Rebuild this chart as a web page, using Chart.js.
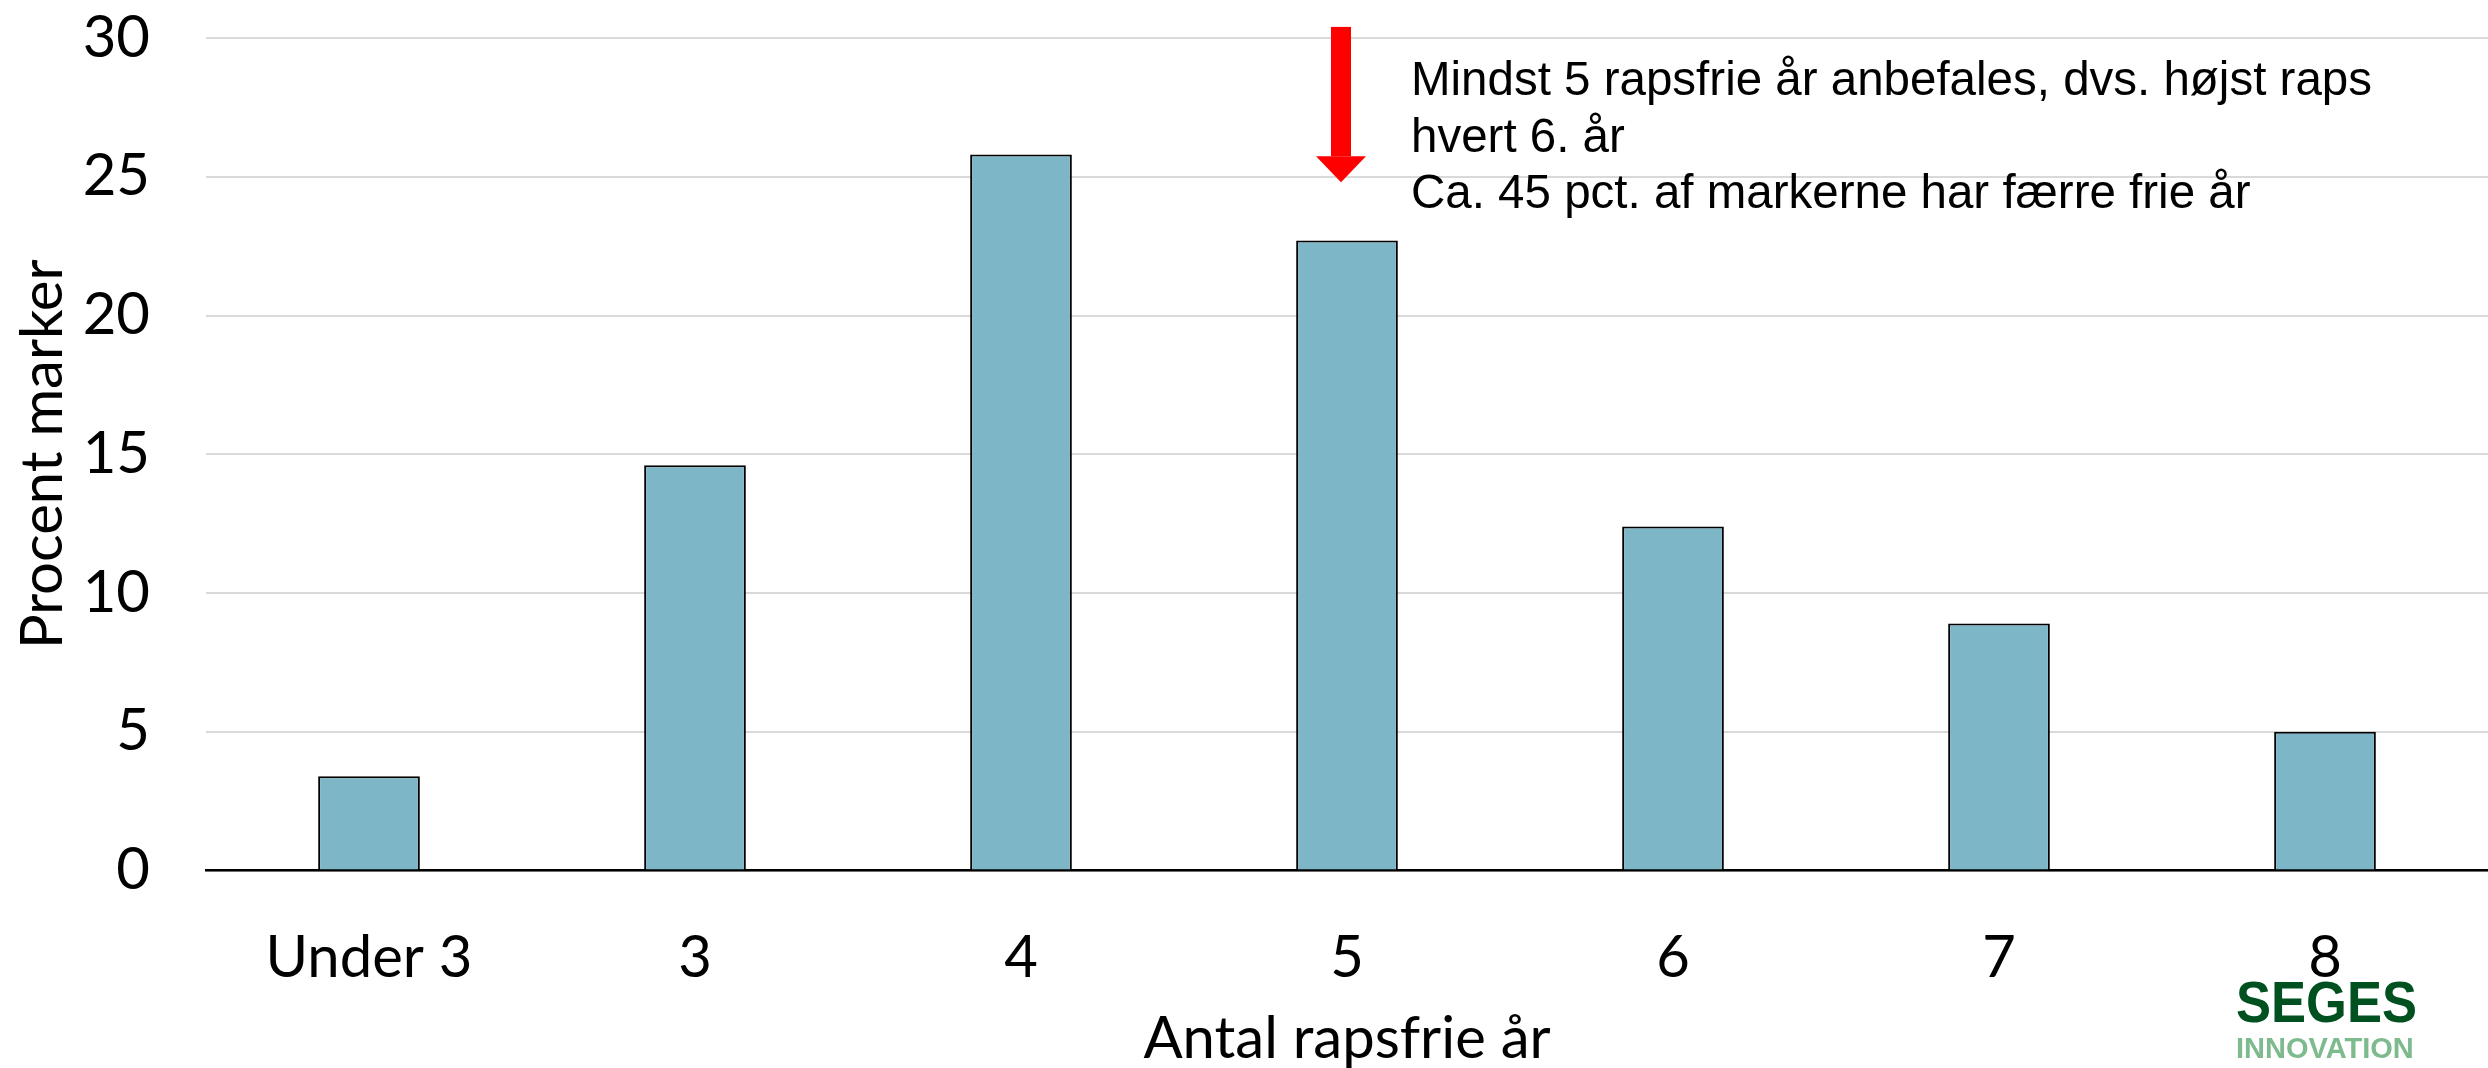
<!DOCTYPE html>
<html>
<head>
<meta charset="utf-8">
<script src="https://cdn.jsdelivr.net/npm/chart.js@4.4.1/dist/chart.umd.min.js"></script>
<style>
  html, body { margin: 0; padding: 0; background: #fff; }
  #wrap { width: 2488px; height: 1068px; }
</style>
</head>
<body>
<div id="wrap"><canvas id="rapsChart" width="2488" height="1068"></canvas></div>
<script>
'use strict';

const categories = ["Under 3", "3", "4", "5", "6", "7", "8"];
const procentMarker = [3.4, 14.6, 25.8, 22.7, 12.4, 8.9, 5.0];
const yTicks = [0, 5, 10, 15, 20, 25, 30];
const noteLines = [
  "Mindst 5 rapsfrie år anbefales, dvs. højst raps",
  "hvert 6. år",
  "Ca. 45 pct. af markerne har færre frie år"
];

const tickFont = { family: "Lato", size: 58 };

// arrow + note text + logo
const notePlugin = {
  id: 'notes',
  afterDraw: function(chart) {
    const ctx = chart.ctx;
    const xs = chart.scales.x;
    const ys = chart.scales.y;
    const cx = xs.getPixelForValue(3) - 6;
    const top = ys.getPixelForValue(30.4);
    const tip = ys.getPixelForValue(24.8);
    const headTop = tip - 26;

    ctx.save();
    ctx.fillStyle = "#ff0000";
    ctx.fillRect(cx - 10, top, 20, headTop - top);
    ctx.beginPath();
    ctx.moveTo(cx - 25, headTop);
    ctx.lineTo(cx + 25, headTop);
    ctx.lineTo(cx, tip);
    ctx.closePath();
    ctx.fill();

    ctx.fillStyle = "#000";
    ctx.font = "47.5px 'Liberation Sans', Arial, sans-serif";
    ctx.textAlign = "left";
    ctx.textBaseline = "alphabetic";
    let by = 95;
    for (let i = 0; i < noteLines.length; i++) {
      ctx.fillText(noteLines[i], cx + 70, by);
      by += 56.5;
    }

    // logo
    ctx.fillStyle = "#00511f";
    ctx.font = "bold 58px 'Liberation Sans', Arial, sans-serif";
    ctx.fillText("SEGES", 2236, 1022, 181);
    ctx.fillStyle = "#7dba8e";
    ctx.font = "bold 29px 'Liberation Sans', Arial, sans-serif";
    ctx.fillText("INNOVATION", 2236, 1058, 181);
    ctx.restore();
  }
};

const ctx = document.getElementById("rapsChart").getContext('2d');

let myChart = new Chart(ctx, {
  type: 'bar',
  data: {
    labels: categories,
    datasets: [{
      label: 'Procent marker',
      data: procentMarker,
      backgroundColor: "#7db6c6",
      borderColor: "#000000",
      borderWidth: 2,
      barPercentage: 0.312,
      categoryPercentage: 1.0
    }]
  },
  options: {
    responsive: false,
    animation: false,
    layout: { padding: { top: 38, right: 0, left: 0, bottom: 0 } },
    plugins: {
      legend: { display: false },
      tooltip: { enabled: false }
    },
    scales: {
      x: {
        grid: { display: false, drawTicks: false },
        border: { display: true, color: "#000", width: 2.5 },
        ticks: { color: "#000", font: tickFont, padding: 53, maxRotation: 0 },
        title: {
          display: true,
          text: "Antal rapsfrie år",
          color: "#000",
          font: { family: "Lato", size: 58, lineHeight: 1 },
          padding: 0
        },
        afterFit: function(s) {
          s.height = 197.5;
          s.paddingLeft = 0;
          s.paddingRight = 0;
        }
      },
      y: {
        min: 0,
        max: 30,
        afterBuildTicks: function(s) { s.ticks = yTicks.map(v => ({ value: v })); },
        grid: { color: "#d9d9d9", lineWidth: 2, drawTicks: false },
        border: { display: false },
        ticks: { color: "#000", font: tickFont, padding: 56 },
        title: {
          display: true,
          text: "Procent marker",
          color: "#000",
          font: { family: "Lato", size: 58, lineHeight: 1 },
          padding: { top: 14, bottom: 0 }
        },
        afterFit: function(s) {
          s.width = 206;
          s.paddingTop = 0;
          s.paddingBottom = 0;
        }
      }
    }
  },
  plugins: [notePlugin]
});
</script>
</body>
</html>
